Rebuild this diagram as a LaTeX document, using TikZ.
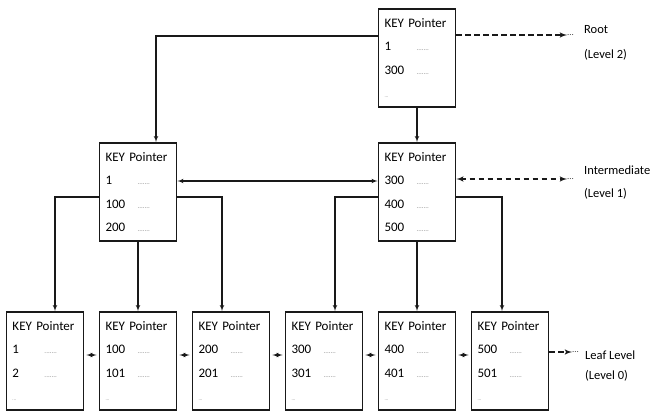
\documentclass[tikz,border=0pt]{standalone}
\usepackage{fontspec}
\setmainfont{Carlito}
\usepackage{tikz}
\usetikzlibrary{arrows,positioning}

\newcommand{\ptr}{{\color{black!45}\scriptsize.......}}
\newcommand{\etc}{{\color{black!45}\tiny...}}

\begin{document}
\begin{tikzpicture}[
    x=1pt, y=1pt,
    node distance=93pt,
    >=latex',
    font=\fontsize{13}{23.5}\selectfont,
    block/.style={
		rectangle,
		draw=black!90,
		line width=1.6pt,
		text width=65pt,
		inner xsep=6pt,
		inner ysep=0pt,
		minimum height=98pt,
		fill=white
	},
	link/.style={
		draw=black!90,
		line width=1.1pt
	},
	levelarrow/.style={
		draw=black!90,
		line width=1.5pt,
		dash pattern=on 5.5pt off 3.5pt
	},
	dotlbl/.style={
		anchor=west,
		inner sep=0pt,
		text=black!75,
		font=\small
	},
	levellbl/.style={
		anchor=base west,
		align=left,
		inner sep=0pt,
		font=\fontsize{12.5}{23}\selectfont
	}
  ]
  \useasboundingbox (0,0) rectangle (651,-412);

  % leaf level first, then the levels above it
  \node [block] (leaf1) at (45,-361)
 {%
 \begin{tabular}{@{}p{20pt}l@{}}
  \multicolumn{2}{@{}l@{}}{KEY Pointer}\\
  1 & \ptr\\
  2 & \ptr\\
  \multicolumn{2}{@{}l@{}}{\etc}
 \end{tabular}
 };

  \node [block, right of=leaf1] (leaf2)
 {%
 \begin{tabular}{@{}p{20pt}l@{}}
  \multicolumn{2}{@{}l@{}}{KEY Pointer}\\
  100 & \ptr\\
  101 & \ptr\\
  \multicolumn{2}{@{}l@{}}{\etc}
 \end{tabular}
 };

  \node [block, right of=leaf2] (leaf3)
 {%
 \begin{tabular}{@{}p{20pt}l@{}}
  \multicolumn{2}{@{}l@{}}{KEY Pointer}\\
  200 & \ptr\\
  201 & \ptr\\
  \multicolumn{2}{@{}l@{}}{\etc}
 \end{tabular}
 };

  \node [block, right of=leaf3] (leaf4)
 {%
 \begin{tabular}{@{}p{20pt}l@{}}
  \multicolumn{2}{@{}l@{}}{KEY Pointer}\\
  300 & \ptr\\
  301 & \ptr\\
  \multicolumn{2}{@{}l@{}}{\etc}
 \end{tabular}
 };

  \node [block, right of=leaf4] (leaf5)
 {%
 \begin{tabular}{@{}p{20pt}l@{}}
  \multicolumn{2}{@{}l@{}}{KEY Pointer}\\
  400 & \ptr\\
  401 & \ptr\\
  \multicolumn{2}{@{}l@{}}{\etc}
 \end{tabular}
 };

  \node [block, right of=leaf5] (leaf6)
 {%
 \begin{tabular}{@{}p{20pt}l@{}}
  \multicolumn{2}{@{}l@{}}{KEY Pointer}\\
  500 & \ptr\\
  501 & \ptr\\
  \multicolumn{2}{@{}l@{}}{\etc}
 \end{tabular}
 };

  \node [block, node distance=169pt, above of=leaf2] (inter1)
 {%
 \begin{tabular}{@{}p{20pt}l@{}}
  \multicolumn{2}{@{}l@{}}{KEY Pointer}\\
  1 & \ptr\\
  100 & \ptr\\
  200 & \ptr
 \end{tabular}
 };

  \node [block, node distance=169pt, above of=leaf5] (inter2)
 {%
 \begin{tabular}{@{}p{20pt}l@{}}
  \multicolumn{2}{@{}l@{}}{KEY Pointer}\\
  300 & \ptr\\
  400 & \ptr\\
  500 & \ptr
 \end{tabular}
 };

  \node [block, node distance=134pt, above of=inter2] (root)
 {%
 \begin{tabular}{@{}p{20pt}l@{}}
  \multicolumn{2}{@{}l@{}}{KEY Pointer}\\
  1 & \ptr\\
  300 & \ptr\\
  \multicolumn{2}{@{}l@{}}{\etc}
 \end{tabular}
 };

  % level names on the right (base is the last line)
  \node [dotlbl] (rootdots) at (567,-35) {...};
  \node [levellbl] (rootlbl) at (584,-59) {Root\\[2pt](Level 2)};
  \node [dotlbl] (interdots) at (567,-179) {...};
  \node [levellbl] (interlbl) at (584,-197) {Intermediate\\(Level 1)};
  \node [dotlbl] (leafdots) at (572,-352) {...};
  \node [levellbl] (leaflbl) at (585,-379) {Leaf Level\\[-3pt](Level 0)};

  % pointers between the blocks
 \draw [link,->] ([yshift=22pt]root.west) -| ([xshift=18pt]inter1.north);
 \draw [link,->] (root) -- (inter2);
 \draw [link,<->] ([yshift=11pt]inter1.east) -- ([yshift=11pt]inter2.west);
 \draw [link,->] ([yshift=-5pt]inter1.west) -| ([xshift=10pt]leaf1.north);
 \draw [link,->] (inter1) -- (leaf2);
 \draw [link,->] ([yshift=-5pt]inter1.east) -| ([xshift=-9pt]leaf3.north);
 \draw [link,->] ([yshift=-5pt]inter2.west) -| ([xshift=11pt]leaf4.north);
 \draw [link,->] (inter2) -- (leaf5);
 \draw [link,->] ([yshift=-5pt]inter2.east) -| ([xshift=-8pt]leaf6.north);

 \draw [link,<->,shorten <=2pt,shorten >=2pt] ([yshift=6pt]leaf1.east) -- ([yshift=6pt]leaf2.west);
 \draw [link,<->,shorten <=2pt,shorten >=2pt] ([yshift=6pt]leaf2.east) -- ([yshift=6pt]leaf3.west);
 \draw [link,<->,shorten <=2pt,shorten >=2pt] ([yshift=6pt]leaf3.east) -- ([yshift=6pt]leaf4.west);
 \draw [link,<->,shorten <=2pt,shorten >=2pt] ([yshift=6pt]leaf4.east) -- ([yshift=6pt]leaf5.west);
 \draw [link,<->,shorten <=2pt,shorten >=2pt] ([yshift=6pt]leaf5.east) -- ([yshift=6pt]leaf6.west);

 \draw [levelarrow,->] ([yshift=23pt]root.east) -- (rootdots);
 \draw [levelarrow,<->] ([yshift=13pt]inter2.east) -- (interdots);
 \draw [levelarrow,->] ([yshift=9pt]leaf6.east) -- (leafdots);

\end{tikzpicture}
\end{document}
